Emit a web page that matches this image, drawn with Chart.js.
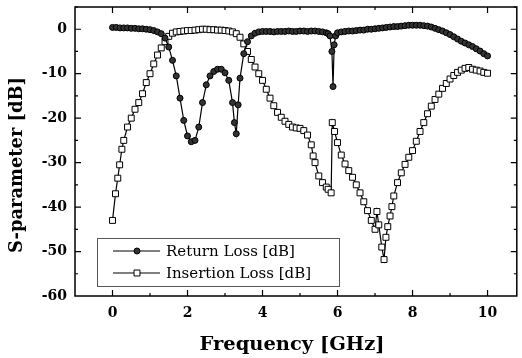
<!DOCTYPE html>
<html>
<head>
<meta charset="utf-8">
<script src="https://cdn.jsdelivr.net/npm/chart.js@4.4.1/dist/chart.umd.min.js"></script>
<style>
html,body{margin:0;padding:0;background:#fff;}
canvas{display:block;}
</style>
</head>
<body>
<canvas id="c" width="522" height="358"></canvas>
<script>
// ---- data ----
const seriesNames = ["Return Loss [dB]", "Insertion Loss [dB]"];
const xTitle = "Frequency [GHz]";
const yTitle = "S-parameter [dB]";
const xTickValues = [0, 2, 4, 6, 8, 10];
const yTickValues = [0, -10, -20, -30, -40, -50, -60];

const rlFreq = [0,0.1,0.2,0.3,0.4,0.5,0.6,0.7,0.8,0.9,1.0,1.1,1.2,1.3,1.4,1.5,1.6,1.7,1.8,1.9,2.0,2.1,2.2,2.3,2.4,2.5,2.6,2.7,2.8,2.9,3.0,3.1,3.2,3.25,3.3,3.35,3.4,3.5,3.6,3.7,3.8,3.9,4.0,4.1,4.2,4.3,4.4,4.5,4.6,4.7,4.8,4.9,5.0,5.1,5.2,5.3,5.4,5.5,5.6,5.7,5.75,5.8,5.85,5.88,5.91,5.95,6.0,6.1,6.2,6.3,6.4,6.5,6.6,6.7,6.8,6.9,7.0,7.1,7.2,7.3,7.4,7.5,7.6,7.7,7.8,7.9,8.0,8.1,8.2,8.3,8.4,8.5,8.6,8.7,8.8,8.9,9.0,9.1,9.2,9.3,9.4,9.5,9.6,9.7,9.8,9.9,10.0];
const rlValues = [0.4,0.4,0.3,0.3,0.3,0.2,0.2,0.1,0.1,0.0,-0.1,-0.3,-0.6,-1.0,-2.0,-4.0,-7.0,-10.5,-15.5,-20.5,-24.0,-25.3,-25.0,-22.0,-16.5,-12.5,-10.5,-9.5,-9.0,-9.0,-9.8,-11.5,-16.5,-21.0,-23.5,-17.0,-11.0,-5.5,-2.8,-1.5,-0.9,-0.6,-0.5,-0.5,-0.5,-0.6,-0.5,-0.5,-0.5,-0.4,-0.5,-0.5,-0.4,-0.4,-0.5,-0.4,-0.4,-0.5,-0.6,-0.8,-1.0,-1.5,-5.0,-12.9,-3.5,-1.5,-0.8,-0.6,-0.5,-0.4,-0.4,-0.3,-0.2,-0.2,0.0,0.0,0.1,0.2,0.3,0.4,0.5,0.6,0.6,0.7,0.8,0.9,0.9,0.9,0.9,0.8,0.7,0.5,0.2,-0.1,-0.4,-0.8,-1.2,-1.7,-2.2,-2.7,-3.1,-3.5,-3.9,-4.4,-4.9,-5.5,-6.0];

const ilFreq = [0.0,0.08,0.14,0.19,0.25,0.3,0.4,0.5,0.6,0.7,0.8,0.9,1.0,1.1,1.2,1.3,1.4,1.5,1.6,1.7,1.8,1.9,2.0,2.1,2.2,2.3,2.4,2.5,2.6,2.7,2.8,2.9,3.0,3.1,3.2,3.3,3.4,3.5,3.6,3.7,3.8,3.9,4.0,4.1,4.2,4.3,4.4,4.5,4.6,4.7,4.8,4.9,5.0,5.1,5.2,5.3,5.35,5.4,5.5,5.6,5.7,5.75,5.83,5.86,5.92,6.0,6.1,6.2,6.3,6.4,6.5,6.6,6.7,6.8,6.9,7.0,7.05,7.1,7.18,7.24,7.29,7.34,7.4,7.45,7.5,7.6,7.7,7.8,7.9,8.0,8.1,8.2,8.3,8.4,8.5,8.6,8.7,8.8,8.9,9.0,9.1,9.2,9.3,9.4,9.5,9.6,9.7,9.8,9.9,10.0];
const ilValues = [-43.0,-37.0,-33.5,-30.5,-27.0,-25.0,-22.0,-20.0,-18.0,-16.5,-14.5,-12.0,-10.0,-7.8,-5.8,-4.2,-2.8,-1.6,-0.9,-0.6,-0.5,-0.4,-0.3,-0.3,-0.2,-0.1,0.0,0.0,-0.1,-0.1,-0.2,-0.2,-0.3,-0.4,-0.6,-1.0,-1.8,-3.3,-5.0,-6.8,-8.5,-10.0,-11.5,-13.5,-15.5,-17.2,-18.7,-19.8,-20.7,-21.4,-22.0,-22.2,-22.3,-22.8,-23.8,-26.0,-28.5,-30.0,-33.0,-34.5,-35.5,-36.0,-36.8,-21.0,-23.0,-25.5,-28.3,-30.3,-31.8,-33.3,-35.0,-36.8,-38.8,-40.8,-43.0,-45.0,-41.0,-44.0,-49.0,-51.8,-46.8,-44.4,-42.0,-39.9,-37.5,-34.5,-32.3,-30.4,-28.8,-27.3,-25.2,-23.0,-21.0,-19.0,-17.3,-15.8,-14.6,-13.3,-12.2,-11.2,-10.4,-9.7,-9.2,-8.8,-8.6,-9.0,-9.2,-9.4,-9.7,-9.9];

// ---- build chart ----
const toPts = (xs, ys) => xs.map((x, i) => ({x: x, y: ys[i]}));

const tickFont = {family: "'DejaVu Serif', serif", weight: 'bold', size: 14};

function drawMarker(ctx, ds, x, y) {
  ctx.fillStyle = ds.pointBackgroundColor;
  ctx.strokeStyle = ds.pointBorderColor;
  ctx.lineWidth = ds.pointBorderWidth;
  ctx.beginPath();
  if (ds.pointStyle === 'circle') {
    ctx.arc(x, y, ds.pointRadius, 0, Math.PI * 2);
  } else {
    const s = Math.SQRT1_2 * ds.pointRadius;
    ctx.rect(x - s, y - s, 2 * s, 2 * s);
  }
  ctx.fill(); ctx.stroke();
}

const framePlugin = {
  id: 'frame',
  afterDatasetsDraw(chart) {
    const ctx = chart.ctx, a = chart.chartArea;
    const xs = chart.scales.x, ys = chart.scales.y;
    ctx.save();
    ctx.strokeStyle = '#000';
    ctx.lineWidth = 1.5;
    ctx.strokeRect(a.left, a.top, a.right - a.left, a.bottom - a.top);
    ctx.lineWidth = 1.2;
    ctx.beginPath();
    for (let v = 0; v <= 10; v += 1) {
      const len = (v % 2 === 0) ? 6 : 3;
      const px = xs.getPixelForValue(v);
      ctx.moveTo(px, a.bottom); ctx.lineTo(px, a.bottom - len);
      ctx.moveTo(px, a.top); ctx.lineTo(px, a.top + len);
    }
    for (let v = -55; v <= 5; v += 5) {
      const len = (v % 10 === 0) ? 6 : 3;
      const py = ys.getPixelForValue(v);
      ctx.moveTo(a.left, py); ctx.lineTo(a.left + len, py);
      ctx.moveTo(a.right, py); ctx.lineTo(a.right - len, py);
    }
    ctx.stroke();
    ctx.restore();
  },
  afterDraw(chart) {
    const ctx = chart.ctx;
    ctx.save();
    ctx.fillStyle = '#000';
    ctx.font = "bold 19px 'DejaVu Serif', serif";
    ctx.textAlign = 'center';
    ctx.textBaseline = 'alphabetic';
    let w = ctx.measureText(xTitle).width;
    ctx.save();
    ctx.translate(292, 350);
    ctx.scale(185 / w, 1);
    ctx.fillText(xTitle, 0, 0);
    ctx.restore();
    w = ctx.measureText(yTitle).width;
    ctx.save();
    ctx.translate(22, 165);
    ctx.rotate(-Math.PI / 2);
    ctx.scale(176 / w, 1);
    ctx.fillText(yTitle, 0, 0);
    ctx.restore();

    // legend
    const bx = 97, by = 238, bw = 242, bh = 48;
    ctx.strokeStyle = '#555';
    ctx.lineWidth = 1;
    ctx.strokeRect(bx + 0.5, by + 0.5, bw, bh);
    const rows = [251, 273];
    chart.data.datasets.forEach((ds, i) => {
      const y = rows[i];
      ctx.strokeStyle = '#000';
      ctx.lineWidth = 1.2;
      ctx.beginPath();
      ctx.moveTo(113, y); ctx.lineTo(160, y);
      ctx.stroke();
      drawMarker(ctx, ds, 137, y);
      ctx.fillStyle = '#000';
      ctx.font = "15px 'DejaVu Serif', serif";
      ctx.textAlign = 'left';
      ctx.textBaseline = 'middle';
      ctx.fillText(seriesNames[i], 166, y + 1);
    });
    ctx.restore();
  }
};

new Chart(document.getElementById('c'), {
  type: 'line',
  data: {
    datasets: [
      {
        label: seriesNames[0],
        data: toPts(rlFreq, rlValues),
        borderColor: '#000', borderWidth: 1.2,
        pointStyle: 'circle', pointRadius: 3,
        pointBackgroundColor: '#333', pointBorderColor: '#000', pointBorderWidth: 1,
        tension: 0, fill: false
      },
      {
        label: seriesNames[1],
        data: toPts(ilFreq, ilValues),
        borderColor: '#000', borderWidth: 1.2,
        pointStyle: 'rect', pointRadius: 4.2,
        pointBackgroundColor: '#fff', pointBorderColor: '#000', pointBorderWidth: 1,
        tension: 0, fill: false
      }
    ]
  },
  options: {
    responsive: false,
    animation: false,
    devicePixelRatio: 1,
    layout: {padding: {top: 7, right: 0, left: 0, bottom: 0}},
    plugins: {legend: {display: false}, tooltip: {enabled: false}},
    scales: {
      x: {
        type: 'linear', min: -1, max: 10.78,
        grid: {display: false, drawTicks: false},
        border: {display: false},
        afterBuildTicks: s => { s.ticks = xTickValues.map(v => ({value: v})); },
        afterFit: s => { s.height = 62; s.paddingLeft = 0; s.paddingRight = 0; },
        ticks: {padding: 9, color: '#000', font: tickFont, maxRotation: 0, autoSkip: false,
                callback: v => String(v)}
      },
      y: {
        type: 'linear', min: -60, max: 5,
        grid: {display: false, drawTicks: false},
        border: {display: false},
        afterBuildTicks: s => { s.ticks = yTickValues.map(v => ({value: v})); },
        afterFit: s => { s.width = 75; s.paddingTop = 0; s.paddingBottom = 0; },
        ticks: {padding: 8, color: '#000', font: tickFont, autoSkip: false,
                callback: v => String(v)}
      }
    }
  },
  plugins: [framePlugin]
});
</script>
</body>
</html>
